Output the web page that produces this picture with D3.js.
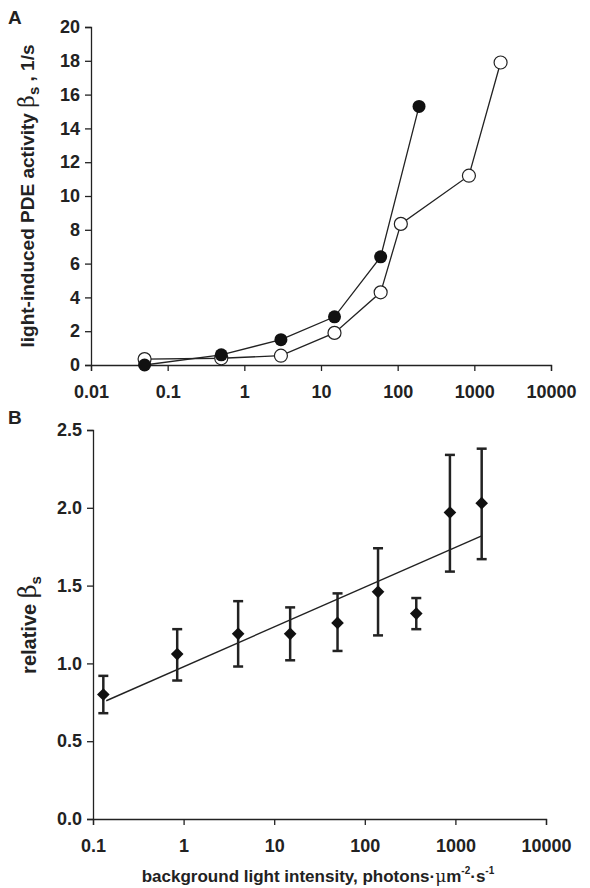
<!DOCTYPE html>
<html><head><meta charset="utf-8">
<script src="https://cdn.jsdelivr.net/npm/d3@7"></script>
<style>
body{margin:0;background:#fff;font-family:"Liberation Sans",Arial,sans-serif;}
text{font-family:"Liberation Sans",Arial,sans-serif;font-weight:bold;fill:#222;}
</style></head><body>
<svg id="chart" width="590" height="888"></svg>
<script>
// panel A
const aFilledX = [0.05, 0.5, 3, 15, 60, 190];
const aFilledY = [0, 0.6, 1.5, 2.85, 6.4, 15.3];
const aOpenX = [0.05, 0.5, 3, 15, 60, 110, 850, 2200];
const aOpenY = [0.35, 0.4, 0.55, 1.9, 4.3, 8.35, 11.2, 17.9];
const aXTicks = [0.01, 0.1, 1, 10, 100, 1000, 10000];
const aYTicks = [0, 2, 4, 6, 8, 10, 12, 14, 16, 18, 20];
// panel B
const bX = [0.13, 0.85, 4, 15, 50, 140, 370, 870, 1950];
const bY = [0.80, 1.06, 1.19, 1.19, 1.26, 1.46, 1.32, 1.97, 2.03];
const bHi = [0.92, 1.22, 1.40, 1.36, 1.45, 1.74, 1.42, 2.34, 2.38];
const bLo = [0.68, 0.89, 0.98, 1.02, 1.08, 1.18, 1.22, 1.59, 1.67];
const bFitX = [0.14, 1950];
const bFitY = [0.76, 1.82];
const bXTicks = [0.1, 1, 10, 100, 1000, 10000];
const bYTicks = [0, 0.5, 1.0, 1.5, 2.0, 2.5];

const svg = d3.select("#chart");
const fmt = d => d < 1 ? String(d) : d3.format("d")(d);

// ---- A ----
const xA = d3.scaleLog().domain([0.01, 10000]).range([91, 551]);
const yA = d3.scaleLinear().domain([0, 20]).range([365, 27]);
const gA = svg.append("g");
gA.append("g").attr("transform", "translate(0,365)")
  .call(d3.axisBottom(xA).tickValues(aXTicks).tickFormat(fmt).tickSize(6).tickPadding(14))
  .call(g => g.selectAll("text").attr("font-size", 18));
gA.append("g").attr("transform", "translate(91,0)")
  .call(d3.axisLeft(yA).tickValues(aYTicks).tickSize(6).tickPadding(5))
  .call(g => g.selectAll("text").attr("font-size", 18));
gA.selectAll(".domain,.tick line").attr("stroke", "#222").attr("stroke-width", 1.3);

const lineA = d3.line().x(d => xA(d[0])).y(d => yA(d[1]));
const filled = aFilledX.map((x, i) => [x, aFilledY[i]]);
const open = aOpenX.map((x, i) => [x, aOpenY[i]]);
gA.append("path").attr("d", lineA(filled)).attr("fill", "none").attr("stroke", "#222").attr("stroke-width", 1.3);
gA.append("path").attr("d", lineA(open)).attr("fill", "none").attr("stroke", "#222").attr("stroke-width", 1.3);
gA.selectAll(".op").data(open).join("circle").attr("cx", d => xA(d[0])).attr("cy", d => yA(d[1]))
  .attr("r", 6.5).attr("fill", "#fff").attr("stroke", "#222").attr("stroke-width", 1.2);
gA.selectAll(".fi").data(filled).join("circle").attr("cx", d => xA(d[0])).attr("cy", d => yA(d[1]))
  .attr("r", 6.5).attr("fill", "#111");

svg.append("text").attr("x", 8).attr("y", 24).attr("font-size", 19).text("A");
svg.append("text").attr("transform", "translate(34,196) rotate(-90)").attr("text-anchor", "middle")
  .attr("font-size", 19).html('light-induced PDE activity <tspan font-family="DejaVu Serif" font-weight="normal" font-size="22">β</tspan><tspan dy="5" font-size="15">s</tspan><tspan dy="-5"> , 1/s</tspan>');

// ---- B ----
const xB = d3.scaleLog().domain([0.1, 10000]).range([93, 546]);
const yB = d3.scaleLinear().domain([0, 2.5]).range([819, 430]);
const gB = svg.append("g");
gB.append("g").attr("transform", "translate(0,819)")
  .call(d3.axisBottom(xB).tickValues(bXTicks).tickFormat(fmt).tickSize(6).tickPadding(14))
  .call(g => g.selectAll("text").attr("font-size", 18));
gB.append("g").attr("transform", "translate(93,0)")
  .call(d3.axisLeft(yB).tickValues(bYTicks).tickFormat(d3.format(".1f")).tickSize(6).tickPadding(5))
  .call(g => g.selectAll("text").attr("font-size", 18));
gB.selectAll(".domain,.tick line").attr("stroke", "#222").attr("stroke-width", 1.3);

gB.append("path").attr("d", d3.line().x(d => xB(d[0])).y(d => yB(d[1]))(bFitX.map((x, i) => [x, bFitY[i]])))
  .attr("fill", "none").attr("stroke", "#222").attr("stroke-width", 1.4);
bX.forEach((x, i) => {
  const cx = xB(x);
  gB.append("line").attr("x1", cx).attr("x2", cx).attr("y1", yB(bLo[i])).attr("y2", yB(bHi[i])).attr("stroke", "#222").attr("stroke-width", 2.5);
  [bLo[i], bHi[i]].forEach(v => gB.append("line").attr("x1", cx - 5).attr("x2", cx + 5).attr("y1", yB(v)).attr("y2", yB(v)).attr("stroke", "#222").attr("stroke-width", 2.5));
  gB.append("path").attr("d", d3.symbol(d3.symbolSquare, 80)()).attr("transform", `translate(${cx},${yB(bY[i])}) rotate(45)`).attr("fill", "#111");
});

svg.append("text").attr("x", 8).attr("y", 424).attr("font-size", 19).text("B");
svg.append("text").attr("transform", "translate(36,625) rotate(-90)").attr("text-anchor", "middle")
  .attr("font-size", 20).html('relative <tspan font-family="DejaVu Serif" font-weight="normal" font-size="24">β</tspan><tspan dy="5" font-size="15">s</tspan>');
svg.append("text").attr("x", 318).attr("y", 882).attr("text-anchor", "middle").attr("font-size", 17)
  .html('background light intensity, photons·<tspan font-weight="normal" font-family="DejaVu Serif">μ</tspan>m<tspan dy="-8" font-size="10">-2</tspan><tspan dy="8">·s</tspan><tspan dy="-8" font-size="10">-1</tspan>');
</script>
</body></html>
